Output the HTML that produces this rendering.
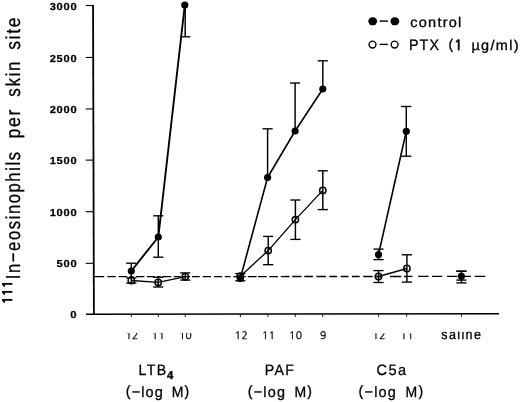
<!DOCTYPE html>
<html><head><meta charset="utf-8"><title>111In-eosinophils per skin site</title>
<style>
html,body{margin:0;padding:0;background:#fff;}
body{width:520px;height:402px;overflow:hidden;}
svg{display:block;font-family:"Liberation Sans",sans-serif;fill:#000;will-change:transform;}
text{text-rendering:geometricPrecision;stroke:#000;stroke-width:.3px;stroke-linejoin:round;}
.ax{stroke:#000;stroke-width:1.5;fill:none;}
.tk{stroke:#000;stroke-width:1.1;fill:none;}
.s{stroke:#000;stroke-width:1.9;fill:none;stroke-linejoin:round;}
.s1{stroke:#000;stroke-width:1.6;fill:none;stroke-linejoin:round;}
.s2{stroke:#000;stroke-width:1.35;fill:none;stroke-linejoin:round;}
.e{stroke:#000;stroke-width:1.45;}
.c{stroke:#000;stroke-width:1.35;}
.f{fill:#000;stroke:none;}
.o{fill:none;stroke:#000;stroke-width:1.45;}
.d{stroke:#000;stroke-width:1.3;fill:none;}
.yl{font-size:10.1px;font-weight:bold;letter-spacing:.7px;stroke-width:.25px;}
.xl{font-family:NanumGothic,"Liberation Sans",sans-serif;font-size:10.3px;stroke-width:.55px;letter-spacing:.4px;}
.g{font-size:15px;letter-spacing:.6px;stroke-width:.45px;}
.lg{font-size:14px;letter-spacing:.6px;stroke-width:.42px;}
.t{font-size:20.2px;letter-spacing:1.9px;stroke-width:.9px;}
</style></head><body>
<svg width="520" height="402" viewBox="0 0 520 402">

<line class="ax" x1="93.05" y1="4.9" x2="93.9" y2="315.1" style="stroke-width:1.8"/>
<line class="ax" x1="85.9" y1="314.3" x2="499.1" y2="313.8"/>
<line class="tk" x1="85.7" y1="5.50" x2="93.5" y2="5.50"/>
<text class="yl" x="49.7" y="9.5" textLength="27.7" lengthAdjust="spacingAndGlyphs">3000</text>
<line class="tk" x1="85.7" y1="57.45" x2="93.5" y2="57.45"/>
<text class="yl" x="49.7" y="61.5" textLength="27.7" lengthAdjust="spacingAndGlyphs">2500</text>
<line class="tk" x1="85.7" y1="108.95" x2="93.5" y2="108.95"/>
<text class="yl" x="49.7" y="113.0" textLength="27.7" lengthAdjust="spacingAndGlyphs">2000</text>
<line class="tk" x1="85.7" y1="160.10" x2="93.5" y2="160.10"/>
<text class="yl" x="49.7" y="164.1" textLength="27.7" lengthAdjust="spacingAndGlyphs">1500</text>
<line class="tk" x1="85.7" y1="211.70" x2="93.5" y2="211.70"/>
<text class="yl" x="49.7" y="215.7" textLength="27.7" lengthAdjust="spacingAndGlyphs">1000</text>
<line class="tk" x1="85.7" y1="263.30" x2="93.5" y2="263.30"/>
<text class="yl" x="56.6" y="267.3" textLength="20.8" lengthAdjust="spacingAndGlyphs">500</text>
<text class="yl" x="70.2" y="318.4" textLength="7.1" lengthAdjust="spacingAndGlyphs">0</text>
<path class="d" d="M94.3 276.60L104.2 276.60 M107.3 276.59L116.0 276.59 M118.6 276.59L127.2 276.59 M129.5 276.59L133.5 276.58 M135.9 276.58L144.3 276.58 M146.9 276.58L154.7 276.58 M157.0 276.57L160.5 276.57 M162.5 276.57L171.2 276.57 M173.7 276.57L180.7 276.57 M183.0 276.56L190.0 276.56 M191.9 276.56L199.7 276.56 M202.7 276.56L211.0 276.55 M214.0 276.55L222.2 276.55 M224.8 276.55L230.5 276.55 M233.4 276.54L245.7 276.54 M247.8 276.54L256.5 276.54 M258.0 276.53L266.7 276.53 M269.2 276.53L278.0 276.53 M280.8 276.53L289.5 276.52 M292.2 276.52L301.5 276.52 M304.3 276.52L313.0 276.51 M316.4 276.51L326.0 276.51 M329.4 276.51L337.2 276.50 M340.7 276.50L348.5 276.50 M351.9 276.50L359.7 276.49 M363.2 276.49L372.7 276.49 M374.5 276.49L382.0 276.48 M390.0 276.48L401.3 276.48 M404.0 276.48L412.5 276.47 M418.0 276.47L428.5 276.47 M432.0 276.46L442.3 276.46 M447.0 276.46L457.3 276.45 M465.0 276.45L471.1 276.45 M474.6 276.45L485.2 276.44"/>
<line class="tk" x1="131.3" y1="314.25" x2="131.3" y2="317.15" style="stroke-width:.9"/>
<line class="tk" x1="158.3" y1="314.21" x2="158.3" y2="317.11" style="stroke-width:.9"/>
<line class="tk" x1="185.2" y1="314.18" x2="185.2" y2="317.08" style="stroke-width:.9"/>
<line class="tk" x1="240.4" y1="314.11" x2="240.4" y2="317.01" style="stroke-width:.9"/>
<line class="tk" x1="267.9" y1="314.08" x2="267.9" y2="316.98" style="stroke-width:.9"/>
<line class="tk" x1="295.3" y1="314.05" x2="295.3" y2="316.95" style="stroke-width:.9"/>
<line class="tk" x1="322.7" y1="314.02" x2="322.7" y2="316.92" style="stroke-width:.9"/>
<line class="tk" x1="378.6" y1="313.95" x2="378.6" y2="316.85" style="stroke-width:.9"/>
<line class="tk" x1="406.7" y1="313.92" x2="406.7" y2="316.82" style="stroke-width:.9"/>
<line class="tk" x1="461.5" y1="313.85" x2="461.5" y2="316.75" style="stroke-width:.9"/>
<polyline class="s" points="131.3,271.0 158.3,237.0 184.8,5.0"/>
<polyline class="s2" points="131.3,280.5 158.2,282.4 185.3,276.7"/>
<line x1="131.3" y1="263.2" x2="131.3" y2="278.0" class="e"/><line x1="126.2" y1="263.2" x2="136.4" y2="263.2" class="c"/>
<line x1="158.3" y1="215.8" x2="158.3" y2="257.2" class="e"/><line x1="153.2" y1="215.8" x2="163.4" y2="215.8" class="c"/><line x1="153.2" y1="257.2" x2="163.4" y2="257.2" class="c"/>
<line x1="185.2" y1="5.0" x2="185.2" y2="36.8" class="e"/><line x1="180.1" y1="36.8" x2="190.3" y2="36.8" class="c"/>
<line x1="131.3" y1="277.9" x2="131.3" y2="283.1" class="e"/><line x1="126.2" y1="277.9" x2="136.4" y2="277.9" class="c"/><line x1="126.2" y1="283.1" x2="136.4" y2="283.1" class="c"/>
<line x1="158.2" y1="277.3" x2="158.2" y2="287.0" class="e"/><line x1="153.1" y1="277.3" x2="163.3" y2="277.3" class="c"/><line x1="153.1" y1="287.0" x2="163.3" y2="287.0" class="c"/>
<line x1="185.3" y1="272.9" x2="185.3" y2="280.1" class="e"/><line x1="180.2" y1="272.9" x2="190.4" y2="272.9" class="c"/><line x1="180.2" y1="280.1" x2="190.4" y2="280.1" class="c"/>
<circle cx="131.3" cy="271.0" r="3.6" class="f"/>
<circle cx="158.3" cy="237.0" r="3.6" class="f"/>
<circle cx="184.8" cy="5.0" r="3.6" class="f"/>
<circle cx="131.3" cy="280.5" r="3.2" class="o"/>
<circle cx="158.2" cy="282.4" r="3.2" class="o"/>
<circle cx="185.3" cy="276.7" r="3.2" class="o"/>
<polyline class="s1" points="240.3,278.4 267.6,177.5 295.1,131.0 322.8,89.0"/>
<polyline class="s2" points="240.3,276.2 268.2,250.6 295.4,219.6 322.8,190.4"/>
<line x1="267.6" y1="128.8" x2="267.6" y2="177.5" class="e"/><line x1="262.5" y1="128.8" x2="272.7" y2="128.8" class="c"/>
<line x1="295.1" y1="83.0" x2="295.1" y2="131.0" class="e"/><line x1="290.0" y1="83.0" x2="300.2" y2="83.0" class="c"/>
<line x1="322.8" y1="60.8" x2="322.8" y2="89.0" class="e"/><line x1="317.7" y1="60.8" x2="327.9" y2="60.8" class="c"/>
<line x1="240.3" y1="273.6" x2="240.3" y2="280.8" class="e"/><line x1="235.2" y1="273.6" x2="245.4" y2="273.6" class="c"/><line x1="235.2" y1="280.8" x2="245.4" y2="280.8" class="c"/>
<line x1="268.2" y1="236.4" x2="268.2" y2="264.7" class="e"/><line x1="263.1" y1="236.4" x2="273.3" y2="236.4" class="c"/><line x1="263.1" y1="264.7" x2="273.3" y2="264.7" class="c"/>
<line x1="295.4" y1="200.0" x2="295.4" y2="239.4" class="e"/><line x1="290.3" y1="200.0" x2="300.5" y2="200.0" class="c"/><line x1="290.3" y1="239.4" x2="300.5" y2="239.4" class="c"/>
<line x1="322.8" y1="170.8" x2="322.8" y2="209.6" class="e"/><line x1="317.7" y1="170.8" x2="327.9" y2="170.8" class="c"/><line x1="317.7" y1="209.6" x2="327.9" y2="209.6" class="c"/>
<circle cx="240.3" cy="278.4" r="3.6" class="f"/>
<circle cx="267.6" cy="177.5" r="3.6" class="f"/>
<circle cx="295.1" cy="131.0" r="3.6" class="f"/>
<circle cx="322.8" cy="89.0" r="3.6" class="f"/>
<circle cx="240.3" cy="276.2" r="3.2" class="o"/>
<circle cx="268.2" cy="250.6" r="3.2" class="o"/>
<circle cx="295.4" cy="219.6" r="3.2" class="o"/>
<circle cx="322.8" cy="190.4" r="3.2" class="o"/>
<polyline class="s1" points="378.5,254.6 406.3,131.3"/>
<polyline class="s2" points="378.5,276.5 406.9,268.5"/>
<line x1="378.5" y1="249.1" x2="378.5" y2="259.6" class="e"/><line x1="373.4" y1="249.1" x2="383.6" y2="249.1" class="c"/><line x1="373.4" y1="259.6" x2="383.6" y2="259.6" class="c"/>
<line x1="406.3" y1="106.5" x2="406.3" y2="156.2" class="e"/><line x1="401.2" y1="106.5" x2="411.4" y2="106.5" class="c"/><line x1="401.2" y1="156.2" x2="411.4" y2="156.2" class="c"/>
<line x1="378.5" y1="270.6" x2="378.5" y2="282.5" class="e"/><line x1="373.4" y1="270.6" x2="383.6" y2="270.6" class="c"/><line x1="373.4" y1="282.5" x2="383.6" y2="282.5" class="c"/>
<line x1="406.9" y1="254.8" x2="406.9" y2="282.1" class="e"/><line x1="401.8" y1="254.8" x2="412.0" y2="254.8" class="c"/><line x1="401.8" y1="282.1" x2="412.0" y2="282.1" class="c"/>
<circle cx="378.5" cy="254.6" r="3.6" class="f"/>
<circle cx="406.3" cy="131.3" r="3.6" class="f"/>
<circle cx="378.5" cy="276.5" r="3.2" class="o"/>
<circle cx="406.9" cy="268.5" r="3.2" class="o"/>
<line x1="461.4" y1="271.1" x2="461.4" y2="282.9" class="e"/><line x1="456.3" y1="271.1" x2="466.5" y2="271.1" class="c"/><line x1="456.3" y1="282.9" x2="466.5" y2="282.9" class="c"/>
<line x1="456.3" y1="280.1" x2="466.5" y2="280.1" class="c"/>
<line x1="456.3" y1="271.3" x2="466.5" y2="271.3" class="c"/>
<circle cx="461.4" cy="276.3" r="3.6" class="f"/>
<g class="xl">
<text x="125.4" y="339.0">12</text>
<text x="151.8" y="339.0">11</text>
<text x="178.9" y="339.0">10</text>
<text x="234.8" y="339.3">12</text>
<text x="262.0" y="339.3">11</text>
<text x="289.0" y="339.3">10</text>
<text x="320.1" y="339.3">9</text>
<text x="372.6" y="338.9">12</text>
<text x="400.6" y="338.9">11</text>
</g>
<text class="g" x="441.3" y="339.3" textLength="41" lengthAdjust="spacingAndGlyphs" style="font-size:13.6px;letter-spacing:1.5px;stroke-width:.35px">saline</text>
<rect x="100" y="322" width="115" height="10.9" fill="#fff"/><rect x="215" y="322" width="135" height="9" fill="#fff"/><rect x="350" y="322" width="80" height="11.4" fill="#fff"/><rect x="430" y="322" width="70" height="9.6" fill="#fff"/>
<g class="g">
<text x="138.5" y="375.2" textLength="29.2" lengthAdjust="spacingAndGlyphs" style="letter-spacing:1.5px">LTB</text>
<text x="167.0" y="378.8" style="font-size:11.3px;font-weight:bold;letter-spacing:0;stroke-width:.4px">4</text>
<text x="264.7" y="374.9" textLength="30.7" lengthAdjust="spacingAndGlyphs" style="letter-spacing:1.5px">PAF</text>
<text x="376.6" y="375" textLength="31" lengthAdjust="spacingAndGlyphs" style="letter-spacing:1.5px">C5a</text>
<text x="125.7" y="397" textLength="38.3" lengthAdjust="spacingAndGlyphs" style="letter-spacing:1.2px"><tspan dy="-1.2">(</tspan><tspan dy="1.2">−log</tspan></text>
<text x="171.7" y="397" textLength="18.6" lengthAdjust="spacingAndGlyphs" style="letter-spacing:1.2px">M<tspan dy="-1.2">)</tspan></text>
<text x="247.8" y="397" textLength="38.3" lengthAdjust="spacingAndGlyphs" style="letter-spacing:1.2px"><tspan dy="-1.2">(</tspan><tspan dy="1.2">−log</tspan></text>
<text x="294.4" y="397" textLength="18.6" lengthAdjust="spacingAndGlyphs" style="letter-spacing:1.2px">M<tspan dy="-1.2">)</tspan></text>
<text x="358.6" y="397" textLength="38.3" lengthAdjust="spacingAndGlyphs" style="letter-spacing:1.2px"><tspan dy="-1.2">(</tspan><tspan dy="1.2">−log</tspan></text>
<text x="405.6" y="397" textLength="18.6" lengthAdjust="spacingAndGlyphs" style="letter-spacing:1.2px">M<tspan dy="-1.2">)</tspan></text>
</g>
<ellipse cx="372.7" cy="21.25" rx="4.35" ry="4.1" class="f"/><ellipse cx="394.8" cy="21.25" rx="4.35" ry="4.1" class="f"/>
<line x1="379.6" y1="21.1" x2="388" y2="21.1" stroke="#000" stroke-width="1.4"/>
<circle cx="372.5" cy="44.6" r="3.45" class="o" style="stroke-width:1.4"/><circle cx="394.6" cy="44.6" r="3.45" class="o" style="stroke-width:1.4"/>
<line x1="379.6" y1="44.4" x2="387.8" y2="44.4" stroke="#000" stroke-width="1.4"/>
<g class="lg">
<text x="410.2" y="26.7" textLength="52.4" lengthAdjust="spacingAndGlyphs" style="letter-spacing:1.2px">control</text>
<text x="408.9" y="50.1" textLength="31.2" lengthAdjust="spacingAndGlyphs" style="font-size:15.2px;letter-spacing:1.2px">PTX</text>
<text x="448.6" y="49.2" style="letter-spacing:0">(</text><text x="454.1" y="50.1" style="font-family:NanumGothic,'Liberation Sans',sans-serif;font-size:14px;letter-spacing:0;stroke-width:.8px">1</text>
<text x="471.4" y="50.1" textLength="48.6" lengthAdjust="spacingAndGlyphs" style="letter-spacing:1.3px">µg/ml)</text>
</g>
<g class="t" transform="rotate(-90)">
<text x="-304.3" y="12.3" style="font-family:NanumGothic,'Liberation Sans',sans-serif;font-size:13px;stroke-width:.9px;letter-spacing:.2px">111</text>
<text x="-279.2" y="20.3" textLength="128.8" lengthAdjust="spacingAndGlyphs">In−eosinophils</text>
<text x="-138.4" y="20.3" textLength="30.5" lengthAdjust="spacingAndGlyphs">per</text>
<text x="-96.7" y="20.3" textLength="36.7" lengthAdjust="spacingAndGlyphs">skin</text>
<text x="-49.8" y="20.3" textLength="33.9" lengthAdjust="spacingAndGlyphs">site</text>
</g>
</svg></body></html>
